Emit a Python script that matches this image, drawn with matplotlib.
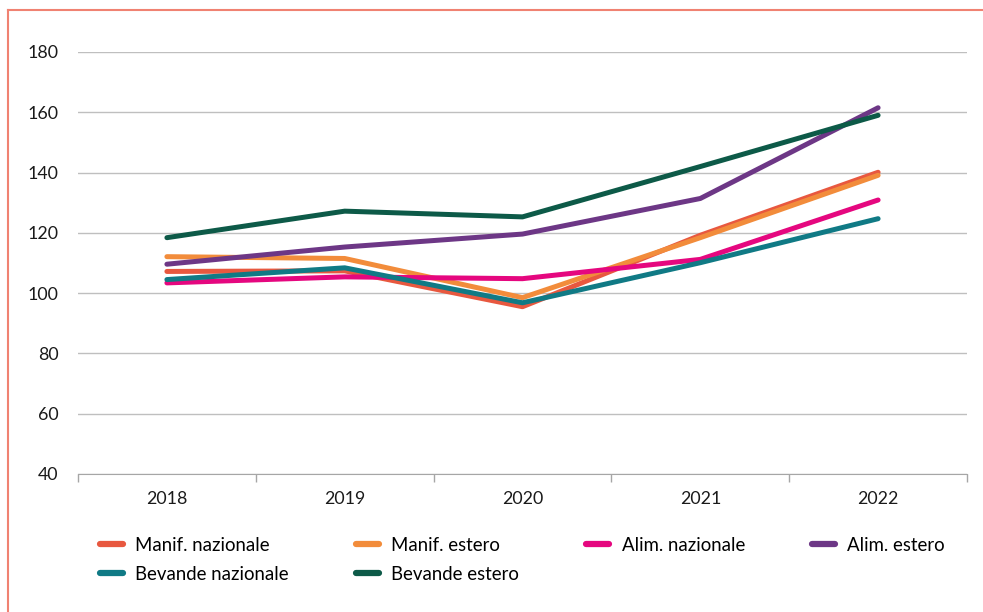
import matplotlib.pyplot as plt
from matplotlib.lines import Line2D
import numpy as np

### DATA ###

years = ["2018", "2019", "2020", "2021", "2022"]
manif_nazionale = [107.2, 107.4, 95.5, 119.2, 140.1]
manif_estero = [112.1, 111.5, 98.5, 118.4, 139.1]
alim_nazionale = [103.4, 105.4, 104.8, 111.2, 130.9]
alim_estero = [109.6, 115.3, 119.6, 131.4, 161.5]
bevande_nazionale = [104.5, 108.4, 96.8, 110.1, 124.7]
bevande_estero = [118.4, 127.2, 125.3, 142.0, 159.0]
y_ticks = [40, 60, 80, 100, 120, 140, 160, 180]

series = [
    ("Manif. nazionale", manif_nazionale, "#E8583F"),
    ("Manif. estero", manif_estero, "#F28C3B"),
    ("Alim. nazionale", alim_nazionale, "#E5077F"),
    ("Alim. estero", alim_estero, "#6D3786"),
    ("Bevande nazionale", bevande_nazionale, "#107A85"),
    ("Bevande estero", bevande_estero, "#0D5A48"),
]

### PLOT ###

plt.rcParams['font.family'] = ['Lato', 'DejaVu Sans']

fig = plt.figure(figsize=(9.83, 6.12), dpi=100)
ax = fig.add_axes([78 / 983, 1 - 474 / 612, (967 - 78) / 983, (474 - 52) / 612])

x = np.arange(len(years))
handles = {}
for label, values, color in series:
    line, = ax.plot(x, values, color=color, lw=3.6, solid_capstyle='round',
                    solid_joinstyle='round', label=label)
    handles[label] = line

ax.set_xlim(-0.5, len(years) - 0.5)
ax.set_ylim(40, 180)
ax.set_yticks(y_ticks)
ax.set_xticks(x, years)
ax.set_xticks(np.arange(-0.5, len(years)), minor=True)
ax.tick_params(axis='x', which='major', length=0, pad=12, labelsize=12.8, colors='#1a1a1a')
ax.tick_params(axis='x', which='minor', length=6, color='#A6A6A6', width=1)
ax.tick_params(axis='y', length=0, pad=14, labelsize=12.8, colors='#1a1a1a')
ax.grid(axis='y', color='#BFBFBF', lw=1)
ax.set_axisbelow(True)
for side in ['top', 'right', 'left']:
    ax.spines[side].set_visible(False)
ax.spines['bottom'].set_color('#A6A6A6')
ax.spines['bottom'].set_zorder(0.5)

# legend order so rows read across (column-major fill)
order = ["Manif. nazionale", "Bevande nazionale", "Manif. estero", "Bevande estero",
         "Alim. nazionale", "Alim. estero"]
leg_handles = [Line2D([], [], color=handles[o].get_color(), lw=4.5, solid_capstyle='round')
               for o in order]
fig.legend(leg_handles, order, ncol=4, loc='upper left', bbox_to_anchor=(100 / 983, 1 - 537 / 612),
           frameon=False, fontsize=13.4, handlelength=1.25, handletextpad=0.65,
           columnspacing=3.6, labelspacing=0.62, borderaxespad=0, borderpad=0)

# frame around the chart (left and top edges visible)
fig.add_artist(Line2D([8 / 983, 8 / 983], [0, 1 - 10 / 612], color='#F08272', lw=1.5,
                      transform=fig.transFigure))
fig.add_artist(Line2D([8 / 983, 1], [1 - 10 / 612, 1 - 10 / 612], color='#F08272', lw=1.5,
                      transform=fig.transFigure))

fig.savefig("out.png", dpi=100)
